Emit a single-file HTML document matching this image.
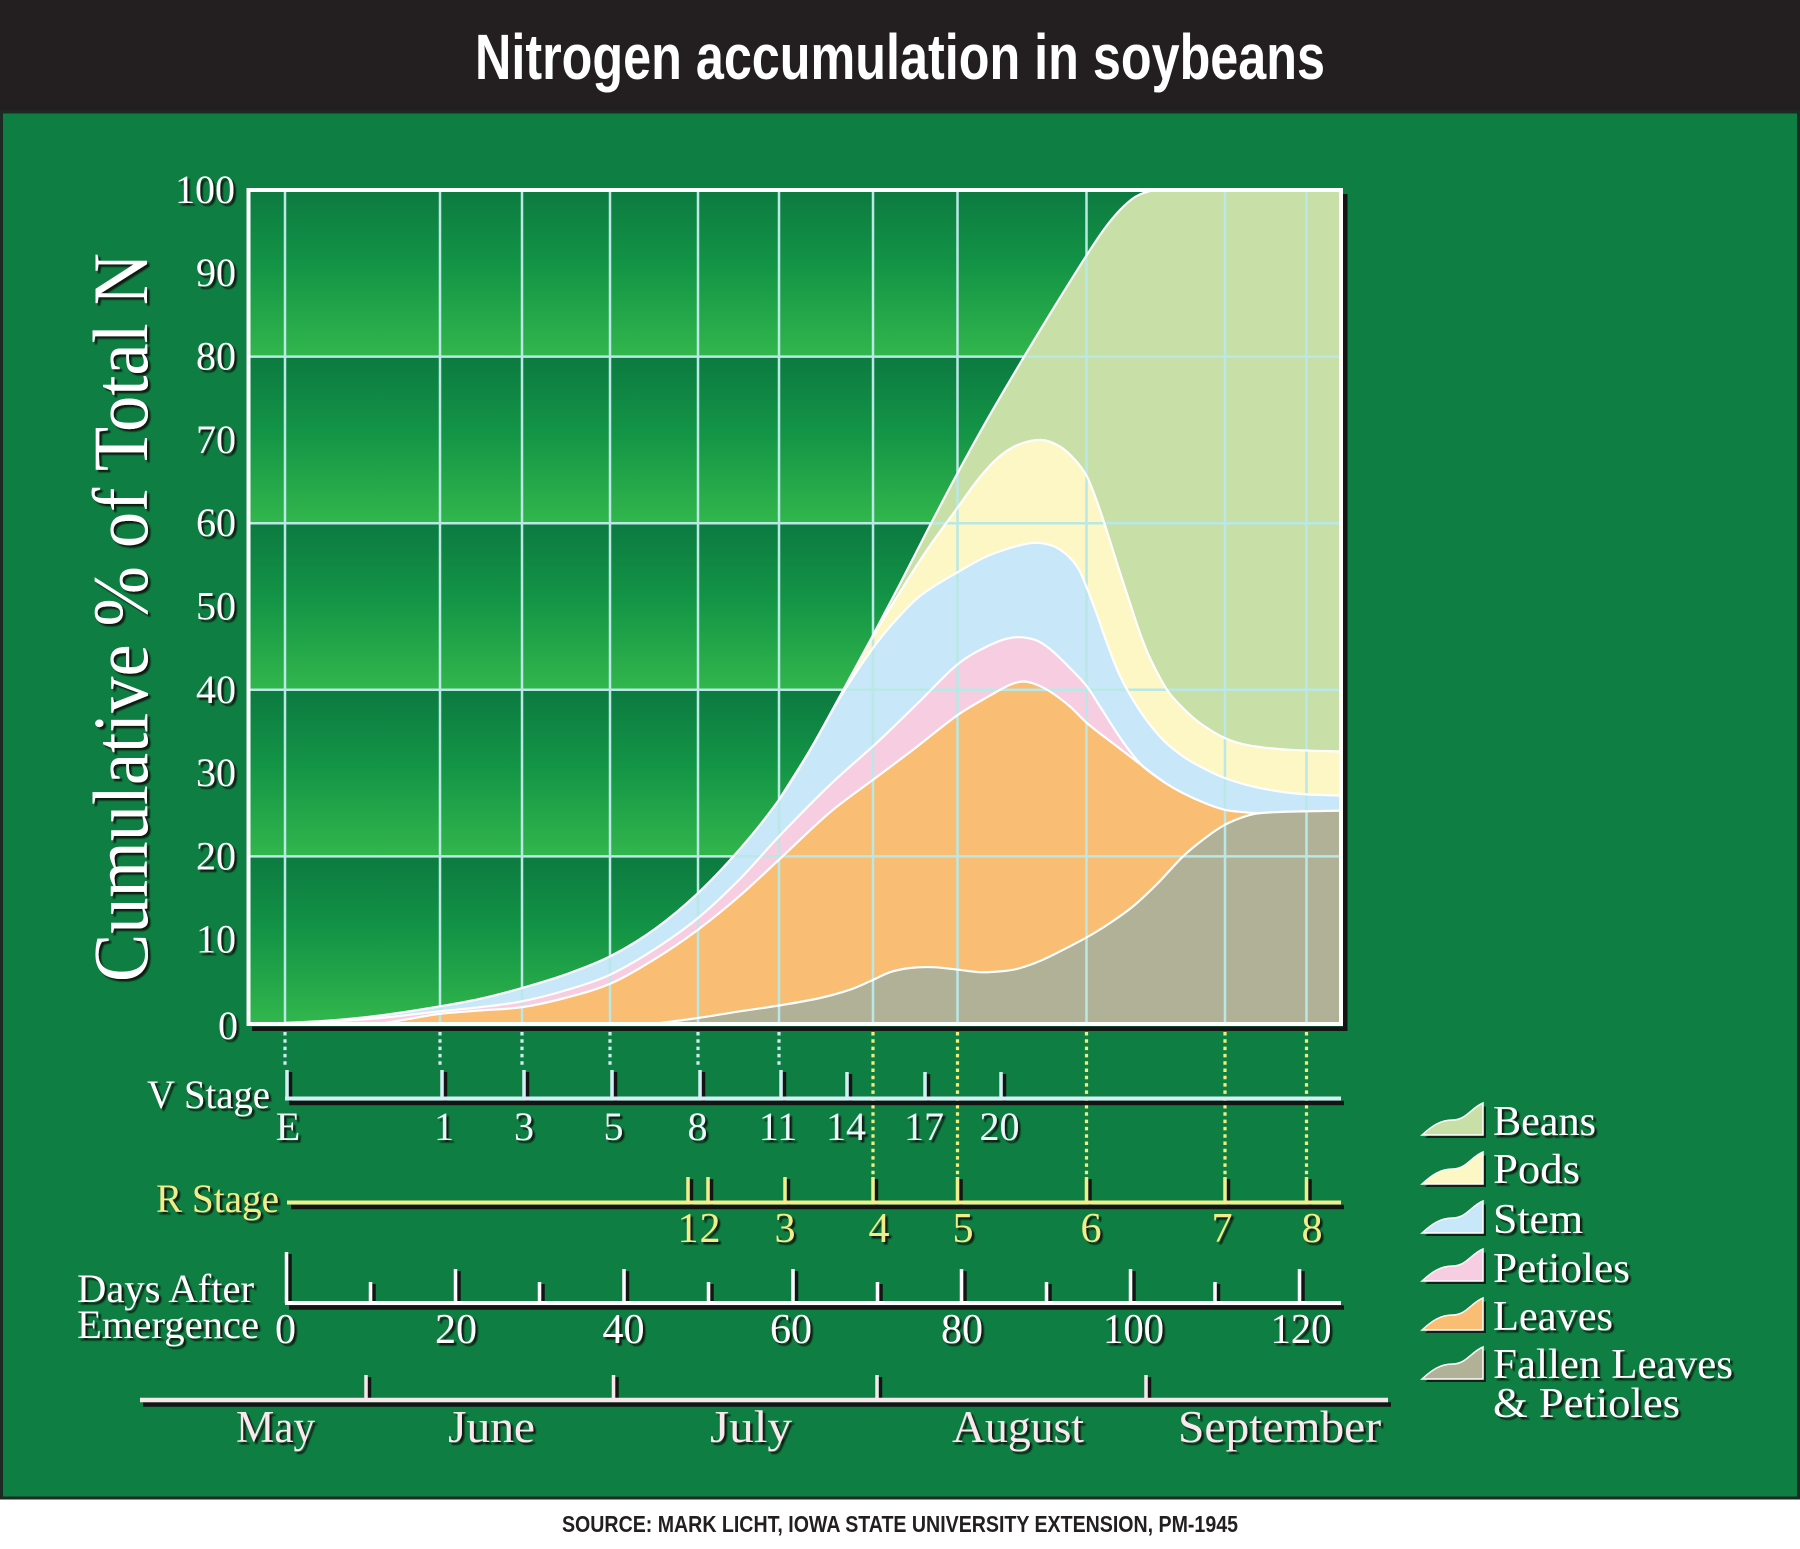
<!DOCTYPE html>
<html>
<head>
<meta charset="utf-8">
<style>
html,body{margin:0;padding:0;background:#fff;}
svg{display:block;}
</style>
</head>
<body>
<svg id="chart" width="1800" height="1549" viewBox="0 0 1800 1549" xmlns="http://www.w3.org/2000/svg">
<defs>
  <linearGradient id="band" x1="0" y1="0" x2="0" y2="1">
    <stop offset="0" stop-color="#0c7a40"/>
    <stop offset="0.45" stop-color="#139446"/>
    <stop offset="1" stop-color="#32b64c"/>
  </linearGradient>
  <filter id="sh" x="-10%" y="-20%" width="130%" height="150%">
    <feDropShadow dx="2.5" dy="2.5" stdDeviation="0.7" flood-color="#0a1510" flood-opacity="0.95"/>
  </filter>
  <clipPath id="plot"><rect x="249" y="190" width="1092" height="833"/></clipPath>
</defs>

<rect x="0" y="0" width="1800" height="1549" fill="#ffffff"/>
<rect x="0" y="0" width="1800" height="113" fill="#231f20"/>
<rect x="1.5" y="112" width="1797" height="1386" fill="#0f7e43" stroke="#1d2a23" stroke-width="3"/>

<text x="900" y="79" text-anchor="middle" font-family="'Liberation Sans', sans-serif" font-weight="bold" font-size="64" textLength="850" lengthAdjust="spacingAndGlyphs" fill="#ffffff">Nitrogen accumulation in soybeans</text>

<g>
  <rect x="249" y="190" width="1092" height="166.6" fill="url(#band)"/>
  <rect x="249" y="356.6" width="1092" height="166.6" fill="url(#band)"/>
  <rect x="249" y="523.2" width="1092" height="166.6" fill="url(#band)"/>
  <rect x="249" y="689.8" width="1092" height="166.6" fill="url(#band)"/>
  <rect x="249" y="856.4" width="1092" height="166.6" fill="url(#band)"/>
</g>

<g clip-path="url(#plot)">
  <!-- Beans -->
  <polygon class="sm" fill="#c8e0a7" points="285,1023 330,1020.5 380,1015.5 440,1006.3 480,998.8 522,988 565,974.7 610,956.4 655,928.9 698,893.1 740,848.9 779,799.8 810,750.2 840,696.2 873,635.2 900,583.9 927,531.2 958,472.3 990,414.7 1026,353.5 1050,313.9 1087,254.7 1105,228 1120,210 1135,197 1150,191 1165,190 1341,190 1341,1023"/>
  <!-- Pods -->
  <polygon class="sm" fill="#fcf7c4" points="285,1023 330,1020.5 380,1015.5 440,1006.3 480,998.8 522,988 565,974.7 610,956.4 655,928.9 698,893.1 740,848.9 779,799.8 810,750.2 840,696.2 873,636.5 900,592 927,550 958,507 980,477 1000,456 1020,444 1042,440 1060,446.6 1075,459.9 1087,476.6 1097,501.5 1107,531.5 1118,566.5 1130,603.2 1140,633.2 1150,658.1 1167,689.8 1183,708.1 1200,723.1 1225,738.1 1250,745.6 1290,749.8 1341,751.4 1341,1023"/>
  <!-- Stem -->
  <polygon class="sm" fill="#c8e7f8" points="285,1023 330,1020.5 380,1015.5 440,1006.3 480,998.8 522,988 565,974.7 610,956.4 655,928.9 698,893.1 740,848.9 779,799.8 810,750.2 840,697.5 873,648 895,621 920,596 958,572 990,555 1030,543.2 1050,544.9 1065,553.2 1078,568.2 1087,588.2 1097,614.8 1107,643.2 1118,671.5 1130,694.8 1145,718.1 1163,739.8 1183,756.4 1200,766.4 1225,778.1 1260,788.1 1300,793.9 1341,795.6 1341,1023"/>
  <!-- Petioles -->
  <polygon class="sm" fill="#f7cde1" points="285,1023 330,1021.3 380,1018 440,1011.3 480,1007.2 522,1001.3 565,990.5 610,974.7 655,948.9 698,918 740,878.9 779,836.4 830,784.8 880,739.8 920,701 958,664 990,645 1013,637.5 1035,639.8 1050,649 1070,668.1 1087,686.5 1100,706.5 1117,733.1 1130,751.4 1143,766.4 1163,781.4 1183,793.1 1205,803.1 1225,809.8 1245,812.3 1257,813.1 1260,813.1 1300,811.4 1341,810.6 1341,1023"/>
  <!-- Leaves -->
  <polygon class="sm" fill="#f9bd73" points="385,1023 410,1018.8 440,1013.8 480,1010.5 522,1007.2 565,998 610,983.8 655,958.9 698,929.7 740,895.6 779,859.7 830,812.3 873,779.8 913,749.8 958,714.8 990,695.6 1010,684.8 1023,681.5 1035,684 1050,691.5 1070,706.5 1087,723.1 1117,746.4 1143,766.4 1163,781.4 1183,793.1 1205,803.1 1225,809.8 1245,812.3 1257,813.1 1260,813.1 1300,811.4 1341,810.6 1341,1023"/>
  <!-- Fallen -->
  <polygon class="sm" fill="#b1b198" points="660,1023 698,1018 740,1011.3 779,1005.5 820,998 850,989.7 870,981.3 890,972.2 910,968 933,967.2 958,969.7 980,972.2 1000,971.4 1017,968.9 1035,963 1050,956.4 1087,937.2 1110,923 1133,906.4 1158,883 1183,856.4 1205,838.1 1225,824.7 1245,816.4 1260,813.1 1300,811.4 1341,810.6 1341,1023"/>

  <g stroke="#b9e8e6" stroke-width="2.5" fill="none">
    <line x1="249" y1="356.6" x2="1341" y2="356.6"/>
    <line x1="249" y1="523.2" x2="1341" y2="523.2"/>
    <line x1="249" y1="689.8" x2="1341" y2="689.8"/>
    <line x1="249" y1="856.4" x2="1341" y2="856.4"/>
    <line x1="285" y1="190" x2="285" y2="1023"/>
    <line x1="440" y1="190" x2="440" y2="1023"/>
    <line x1="522" y1="190" x2="522" y2="1023"/>
    <line x1="610" y1="190" x2="610" y2="1023"/>
    <line x1="698" y1="190" x2="698" y2="1023"/>
    <line x1="779" y1="190" x2="779" y2="1023"/>
    <line x1="873" y1="190" x2="873" y2="1023"/>
    <line x1="957.5" y1="190" x2="957.5" y2="1023"/>
    <line x1="1086.5" y1="190" x2="1086.5" y2="1023"/>
    <line x1="1225" y1="190" x2="1225" y2="1023"/>
    <line x1="1306.5" y1="190" x2="1306.5" y2="1023"/>
  </g>

  <g fill="none" stroke="#ffffff" stroke-width="2.2" stroke-linejoin="round">
    <polyline class="sm" points="285,1023 330,1020.5 380,1015.5 440,1006.3 480,998.8 522,988 565,974.7 610,956.4 655,928.9 698,893.1 740,848.9 779,799.8 810,750.2 840,696.2 873,635.2 900,583.9 927,531.2 958,472.3 990,414.7 1026,353.5 1050,313.9 1087,254.7 1105,228 1120,210 1135,197 1150,191 1165,190 1341,190"/>
    <polyline class="sm" points="779,799.8 810,750.2 840,696.2 873,636.5 900,592 927,550 958,507 980,477 1000,456 1020,444 1042,440 1060,446.6 1075,459.9 1087,476.6 1097,501.5 1107,531.5 1118,566.5 1130,603.2 1140,633.2 1150,658.1 1167,689.8 1183,708.1 1200,723.1 1225,738.1 1250,745.6 1290,749.8 1341,751.4"/>
    <polyline class="sm" points="779,799.8 810,750.2 840,697.5 873,648 895,621 920,596 958,572 990,555 1030,543.2 1050,544.9 1065,553.2 1078,568.2 1087,588.2 1097,614.8 1107,643.2 1118,671.5 1130,694.8 1145,718.1 1163,739.8 1183,756.4 1200,766.4 1225,778.1 1260,788.1 1300,793.9 1341,795.6"/>
    <polyline class="sm" points="285,1023 330,1021.3 380,1018 440,1011.3 480,1007.2 522,1001.3 565,990.5 610,974.7 655,948.9 698,918 740,878.9 779,836.4 830,784.8 880,739.8 920,701 958,664 990,645 1013,637.5 1035,639.8 1050,649 1070,668.1 1087,686.5 1100,706.5 1117,733.1 1130,751.4 1143,766.4 1163,781.4"/>
    <polyline class="sm" points="385,1023 410,1018.8 440,1013.8 480,1010.5 522,1007.2 565,998 610,983.8 655,958.9 698,929.7 740,895.6 779,859.7 830,812.3 873,779.8 913,749.8 958,714.8 990,695.6 1010,684.8 1023,681.5 1035,684 1050,691.5 1070,706.5 1087,723.1 1117,746.4 1143,766.4 1163,781.4 1183,793.1 1205,803.1 1225,809.8 1245,812.3 1257,813.1 1260,813.1"/>
    <polyline class="sm" points="660,1023 698,1018 740,1011.3 779,1005.5 820,998 850,989.7 870,981.3 890,972.2 910,968 933,967.2 958,969.7 980,972.2 1000,971.4 1017,968.9 1035,963 1050,956.4 1087,937.2 1110,923 1133,906.4 1158,883 1183,856.4 1205,838.1 1225,824.7 1245,816.4 1260,813.1 1300,811.4 1341,810.6"/>
  </g>
</g>

<rect x="1343" y="194" width="4.5" height="837" fill="#141414"/>
<rect x="252" y="1026.5" width="1095.5" height="4.5" fill="#141414"/>
<rect x="248.5" y="190" width="1092.5" height="834" fill="none" stroke="#ffffff" stroke-width="4"/>

<g stroke-width="3.2" stroke-dasharray="3.5 3.8" fill="none">
  <g stroke="#cdeef0">
    <line x1="285" y1="1032" x2="285" y2="1068"/>
    <line x1="440" y1="1032" x2="440" y2="1068"/>
    <line x1="522" y1="1032" x2="522" y2="1068"/>
    <line x1="610" y1="1032" x2="610" y2="1068"/>
    <line x1="698" y1="1032" x2="698" y2="1068"/>
    <line x1="779" y1="1032" x2="779" y2="1068"/>
  </g>
  <g stroke="#f2ee7c">
    <line x1="873" y1="1032" x2="873" y2="1176"/>
    <line x1="957.5" y1="1032" x2="957.5" y2="1176"/>
    <line x1="1086.5" y1="1032" x2="1086.5" y2="1176"/>
    <line x1="1225" y1="1032" x2="1225" y2="1176"/>
    <line x1="1306.5" y1="1032" x2="1306.5" y2="1176"/>
  </g>
</g>

<g>
  <g stroke="#141414" stroke-width="3.5">
    <line x1="289" y1="1103" x2="1344" y2="1103" stroke-width="4.5"/>
    <line x1="290.5" y1="1072" x2="290.5" y2="1101"/>
    <line x1="445.5" y1="1072" x2="445.5" y2="1101"/>
    <line x1="527.5" y1="1072" x2="527.5" y2="1101"/>
    <line x1="615.5" y1="1072" x2="615.5" y2="1101"/>
    <line x1="703.5" y1="1072" x2="703.5" y2="1101"/>
    <line x1="784.5" y1="1072" x2="784.5" y2="1101"/>
    <line x1="850.5" y1="1074" x2="850.5" y2="1101"/>
    <line x1="928.5" y1="1074" x2="928.5" y2="1101"/>
    <line x1="1004.5" y1="1074" x2="1004.5" y2="1101"/>
  </g>
  <g stroke="#d5edf7" stroke-width="3.5">
    <line x1="285" y1="1098.5" x2="1341" y2="1098.5" stroke-width="4"/>
    <line x1="287" y1="1070" x2="287" y2="1098"/>
    <line x1="442" y1="1070" x2="442" y2="1098"/>
    <line x1="524" y1="1070" x2="524" y2="1098"/>
    <line x1="612" y1="1070" x2="612" y2="1098"/>
    <line x1="700" y1="1070" x2="700" y2="1098"/>
    <line x1="781" y1="1070" x2="781" y2="1098"/>
    <line x1="847" y1="1072" x2="847" y2="1098"/>
    <line x1="925" y1="1072" x2="925" y2="1098"/>
    <line x1="1001" y1="1072" x2="1001" y2="1098"/>
  </g>
</g>

<g>
  <g stroke="#141414" stroke-width="3.5">
    <line x1="291" y1="1207" x2="1344" y2="1207" stroke-width="4.5"/>
    <line x1="691.5" y1="1179" x2="691.5" y2="1205"/>
    <line x1="711.5" y1="1179" x2="711.5" y2="1205"/>
    <line x1="788.5" y1="1179" x2="788.5" y2="1205"/>
    <line x1="876.5" y1="1179" x2="876.5" y2="1205"/>
    <line x1="961" y1="1179" x2="961" y2="1205"/>
    <line x1="1090" y1="1179" x2="1090" y2="1205"/>
    <line x1="1228.5" y1="1179" x2="1228.5" y2="1205"/>
    <line x1="1310" y1="1179" x2="1310" y2="1205"/>
  </g>
  <g stroke="#f3ee8c" stroke-width="3.5">
    <line x1="287" y1="1202.5" x2="1341" y2="1202.5" stroke-width="4"/>
    <line x1="688" y1="1177" x2="688" y2="1202"/>
    <line x1="708" y1="1177" x2="708" y2="1202"/>
    <line x1="785" y1="1177" x2="785" y2="1202"/>
    <line x1="873" y1="1177" x2="873" y2="1202"/>
    <line x1="957.5" y1="1177" x2="957.5" y2="1202"/>
    <line x1="1086.5" y1="1177" x2="1086.5" y2="1202"/>
    <line x1="1225" y1="1177" x2="1225" y2="1202"/>
    <line x1="1306.5" y1="1177" x2="1306.5" y2="1202"/>
  </g>
</g>

<g>
  <g stroke="#141414" stroke-width="3.5">
    <line x1="289" y1="1307.5" x2="1344" y2="1307.5" stroke-width="4.5"/>
    <line x1="290" y1="1254" x2="290" y2="1305"/>
    <line x1="374" y1="1284" x2="374" y2="1305"/>
    <line x1="459" y1="1271" x2="459" y2="1305"/>
    <line x1="543" y1="1284" x2="543" y2="1305"/>
    <line x1="627.5" y1="1271" x2="627.5" y2="1305"/>
    <line x1="712" y1="1284" x2="712" y2="1305"/>
    <line x1="796.5" y1="1271" x2="796.5" y2="1305"/>
    <line x1="881" y1="1284" x2="881" y2="1305"/>
    <line x1="965" y1="1271" x2="965" y2="1305"/>
    <line x1="1050" y1="1284" x2="1050" y2="1305"/>
    <line x1="1134" y1="1271" x2="1134" y2="1305"/>
    <line x1="1218.5" y1="1284" x2="1218.5" y2="1305"/>
    <line x1="1303" y1="1271" x2="1303" y2="1305"/>
  </g>
  <g stroke="#ffffff" stroke-width="3.5">
    <line x1="285" y1="1303" x2="1341" y2="1303" stroke-width="4"/>
    <line x1="286.5" y1="1252" x2="286.5" y2="1303"/>
    <line x1="370.5" y1="1282" x2="370.5" y2="1303"/>
    <line x1="455.5" y1="1269" x2="455.5" y2="1303"/>
    <line x1="539.5" y1="1282" x2="539.5" y2="1303"/>
    <line x1="624" y1="1269" x2="624" y2="1303"/>
    <line x1="708.5" y1="1282" x2="708.5" y2="1303"/>
    <line x1="793" y1="1269" x2="793" y2="1303"/>
    <line x1="877.5" y1="1282" x2="877.5" y2="1303"/>
    <line x1="961.5" y1="1269" x2="961.5" y2="1303"/>
    <line x1="1046.5" y1="1282" x2="1046.5" y2="1303"/>
    <line x1="1130.5" y1="1269" x2="1130.5" y2="1303"/>
    <line x1="1215" y1="1282" x2="1215" y2="1303"/>
    <line x1="1299.5" y1="1269" x2="1299.5" y2="1303"/>
  </g>
</g>

<g>
  <g stroke="#141414" stroke-width="3.5">
    <line x1="143" y1="1404.5" x2="1391" y2="1404.5" stroke-width="4.5"/>
    <line x1="369.5" y1="1377" x2="369.5" y2="1402"/>
    <line x1="617" y1="1377" x2="617" y2="1402"/>
    <line x1="880.5" y1="1377" x2="880.5" y2="1402"/>
    <line x1="1149.5" y1="1377" x2="1149.5" y2="1402"/>
  </g>
  <g stroke="#f7e7eb" stroke-width="3.5">
    <line x1="140" y1="1400" x2="1388" y2="1400" stroke-width="4.5"/>
    <line x1="366" y1="1375" x2="366" y2="1400"/>
    <line x1="613.5" y1="1375" x2="613.5" y2="1400"/>
    <line x1="877" y1="1375" x2="877" y2="1400"/>
    <line x1="1146" y1="1375" x2="1146" y2="1400"/>
  </g>
</g>

<g>
  <g fill="#142018">
    <path transform="translate(3,3)" d="M1422,1135 C1432,1126 1440,1120 1453,1120 C1466,1120 1471,1108 1483,1103 L1483,1135 Z"/>
    <path transform="translate(3,52)" d="M1422,1135 C1432,1126 1440,1120 1453,1120 C1466,1120 1471,1108 1483,1103 L1483,1135 Z"/>
    <path transform="translate(3,101)" d="M1422,1135 C1432,1126 1440,1120 1453,1120 C1466,1120 1471,1108 1483,1103 L1483,1135 Z"/>
    <path transform="translate(3,149)" d="M1422,1135 C1432,1126 1440,1120 1453,1120 C1466,1120 1471,1108 1483,1103 L1483,1135 Z"/>
    <path transform="translate(3,198)" d="M1422,1135 C1432,1126 1440,1120 1453,1120 C1466,1120 1471,1108 1483,1103 L1483,1135 Z"/>
    <path transform="translate(3,247)" d="M1422,1135 C1432,1126 1440,1120 1453,1120 C1466,1120 1471,1108 1483,1103 L1483,1135 Z"/>
  </g>
  <g stroke="#ffffff" stroke-width="1.5">
    <path fill="#c8e0a7" d="M1422,1135 C1432,1126 1440,1120 1453,1120 C1466,1120 1471,1108 1483,1103 L1483,1135 Z"/>
    <path fill="#fcf7c4" transform="translate(0,49)" d="M1422,1135 C1432,1126 1440,1120 1453,1120 C1466,1120 1471,1108 1483,1103 L1483,1135 Z"/>
    <path fill="#c8e7f8" transform="translate(0,98)" d="M1422,1135 C1432,1126 1440,1120 1453,1120 C1466,1120 1471,1108 1483,1103 L1483,1135 Z"/>
    <path fill="#f7cde1" transform="translate(0,146)" d="M1422,1135 C1432,1126 1440,1120 1453,1120 C1466,1120 1471,1108 1483,1103 L1483,1135 Z"/>
    <path fill="#f9bd73" transform="translate(0,195)" d="M1422,1135 C1432,1126 1440,1120 1453,1120 C1466,1120 1471,1108 1483,1103 L1483,1135 Z"/>
    <path fill="#b1b198" transform="translate(0,244)" d="M1422,1135 C1432,1126 1440,1120 1453,1120 C1466,1120 1471,1108 1483,1103 L1483,1135 Z"/>
  </g>
</g>

<g filter="url(#sh)" font-family="'Liberation Serif', serif" fill="#ffffff">
  <text transform="translate(147,617.5) rotate(-90)" text-anchor="middle" font-size="78" textLength="729" lengthAdjust="spacingAndGlyphs">Cumulative % of Total N</text>

  <g font-size="40" text-anchor="end">
    <text x="235" y="203">100</text>
    <text x="236" y="286">90</text>
    <text x="236" y="369.6">80</text>
    <text x="236" y="453">70</text>
    <text x="236" y="536.2">60</text>
    <text x="236" y="619.5">50</text>
    <text x="236" y="702.8">40</text>
    <text x="236" y="786">30</text>
    <text x="236" y="869.4">20</text>
    <text x="236" y="952.7">10</text>
    <text x="238" y="1039">0</text>
  </g>

  <text x="147" y="1108" font-size="40" textLength="123" lengthAdjust="spacingAndGlyphs">V Stage</text>
  <g font-size="40" text-anchor="middle" fill="#eef7fb">
    <text x="288" y="1140">E</text>
    <text x="444" y="1140">1</text>
    <text x="524" y="1140">3</text>
    <text x="613.5" y="1140">5</text>
    <text x="697.5" y="1140">8</text>
    <text x="778" y="1140">11</text>
    <text x="846" y="1140">14</text>
    <text x="924" y="1140">17</text>
    <text x="999.5" y="1140">20</text>
  </g>

  <text x="156" y="1212" font-size="40" textLength="123" lengthAdjust="spacingAndGlyphs" fill="#f3ec8a">R Stage</text>
  <g font-size="42" text-anchor="middle" fill="#f3ec8a">
    <text x="688" y="1242">1</text>
    <text x="710" y="1242">2</text>
    <text x="785" y="1242">3</text>
    <text x="879" y="1242">4</text>
    <text x="963" y="1242">5</text>
    <text x="1091" y="1242">6</text>
    <text x="1222" y="1242">7</text>
    <text x="1312" y="1242">8</text>
  </g>

  <text x="77" y="1302" font-size="40" textLength="177" lengthAdjust="spacingAndGlyphs">Days After</text>
  <text x="77" y="1338" font-size="40" textLength="182" lengthAdjust="spacingAndGlyphs">Emergence</text>
  <g font-size="42" text-anchor="middle">
    <text x="285.5" y="1343">0</text>
    <text x="456" y="1343">20</text>
    <text x="623.5" y="1343">40</text>
    <text x="791" y="1343">60</text>
    <text x="962" y="1343">80</text>
    <text x="1133.5" y="1343" textLength="61" lengthAdjust="spacingAndGlyphs">100</text>
    <text x="1301" y="1343" textLength="61" lengthAdjust="spacingAndGlyphs">120</text>
  </g>

  <g font-size="45" text-anchor="middle" fill="#fae8ee">
    <text x="275.5" y="1442" textLength="79" lengthAdjust="spacingAndGlyphs">May</text>
    <text x="491.5" y="1442" textLength="87" lengthAdjust="spacingAndGlyphs">June</text>
    <text x="751" y="1442" textLength="82" lengthAdjust="spacingAndGlyphs">July</text>
    <text x="1018" y="1442" textLength="132" lengthAdjust="spacingAndGlyphs">August</text>
    <text x="1279.5" y="1442" textLength="203" lengthAdjust="spacingAndGlyphs">September</text>
  </g>

  <g font-size="42">
    <text x="1493" y="1135" textLength="103" lengthAdjust="spacingAndGlyphs">Beans</text>
    <text x="1493" y="1183" textLength="87" lengthAdjust="spacingAndGlyphs">Pods</text>
    <text x="1493" y="1233" textLength="90" lengthAdjust="spacingAndGlyphs">Stem</text>
    <text x="1493" y="1282" textLength="137" lengthAdjust="spacingAndGlyphs">Petioles</text>
    <text x="1493" y="1330" textLength="120" lengthAdjust="spacingAndGlyphs">Leaves</text>
    <text x="1493" y="1378" textLength="240" lengthAdjust="spacingAndGlyphs">Fallen Leaves</text>
    <text x="1493" y="1417" textLength="187" lengthAdjust="spacingAndGlyphs">&amp; Petioles</text>
  </g>
</g>

<text x="900" y="1532" text-anchor="middle" font-family="'Liberation Sans', sans-serif" font-weight="bold" font-size="23" textLength="676" lengthAdjust="spacingAndGlyphs" fill="#231f20">SOURCE: MARK LICHT, IOWA STATE UNIVERSITY EXTENSION, PM-1945</text>
</svg>
<script>
(function(){
  var NS = "http://www.w3.org/2000/svg";
  function parse(s){
    return s.trim().split(/\s+/).map(function(p){var a=p.split(',');return [parseFloat(a[0]),parseFloat(a[1])];});
  }
  function f(n){return Math.round(n*100)/100;}
  function smooth(pts){
    var n = pts.length, m = [], i;
    for(i=0;i<n;i++){
      var a = pts[i>0?i-1:i], b = pts[i<n-1?i+1:i];
      var dx = b[0]-a[0];
      m.push(dx!==0 ? (b[1]-a[1])/dx : 0);
    }
    var d = 'M'+f(pts[0][0])+','+f(pts[0][1]);
    for(i=0;i<n-1;i++){
      var p1=pts[i], p2=pts[i+1], h=(p2[0]-p1[0])/3;
      d += ' C'+f(p1[0]+h)+','+f(p1[1]+m[i]*h)+' '+f(p2[0]-h)+','+f(p2[1]-m[i+1]*h)+' '+f(p2[0])+','+f(p2[1]);
    }
    return d;
  }
  var els = document.querySelectorAll('.sm');
  for(var k=0;k<els.length;k++){
    var el = els[k];
    var pts = parse(el.getAttribute('points'));
    var d;
    if(el.tagName.toLowerCase()==='polygon'){
      var last = pts.pop();
      d = smooth(pts)+' L'+last[0]+','+last[1]+' Z';
    } else {
      d = smooth(pts);
    }
    var p = document.createElementNS(NS,'path');
    for(var j=0;j<el.attributes.length;j++){
      var at = el.attributes[j];
      if(at.name!=='points' && at.name!=='class'){p.setAttribute(at.name, at.value);}
    }
    p.setAttribute('d', d);
    el.parentNode.replaceChild(p, el);
  }
})();
</script>
</body>
</html>
